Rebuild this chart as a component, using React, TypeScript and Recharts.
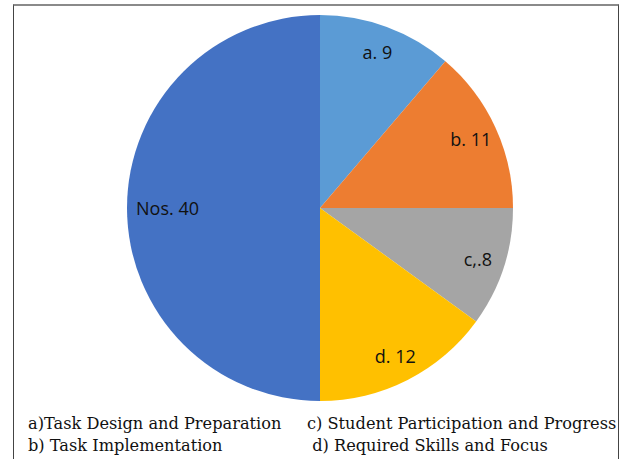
import React from 'react'
import { PieChart, Pie, Cell } from 'recharts'

const labels = ['a. ', 'b. ', 'c,.', 'd. ', 'Nos. ']
const values = [9, 11, 8, 12, 40]
const colors = ['#5B9BD5', '#ED7D31', '#A5A5A5', '#FFC000', '#4472C4']
const legendLeft = ['a)Task Design and Preparation', 'b) Task Implementation']
const legendRight = ['c) Student Participation and Progress', ' d) Required Skills and Focus']

const data = values.map((v, i) => ({ name: labels[i], value: v }))

const RAD = Math.PI / 180

const renderLabel = (props: any) => {
  const { cx, cy, midAngle, outerRadius, percent, index } = props
  const r = outerRadius * (percent >= 0.5 ? 0.79 : 0.86)
  const x = cx + r * Math.cos(-midAngle * RAD)
  const y = cy + r * Math.sin(-midAngle * RAD)
  return (
    <text
      x={x}
      y={y}
      textAnchor="middle"
      dominantBaseline="central"
      fill="#111"
      fontSize={18}
      fontFamily="'Open Sans', sans-serif"
    >
      {labels[index] + values[index]}
    </text>
  )
}

const legendStyle: React.CSSProperties = {
  position: 'absolute',
  fontFamily: "'DejaVu Serif', serif",
  fontSize: 16.2,
  color: '#111',
  lineHeight: '22px',
  whiteSpace: 'pre',
}

export default function App() {
  return (
    <div style={{ position: 'absolute', left: 0, top: 0, width: 624, height: 459, background: '#fff', overflow: 'hidden' }}>
      <div
        style={{
          position: 'absolute',
          left: 13,
          top: 4,
          width: 604,
          height: 470,
          borderTop: '2px solid #8a8a8a',
          borderLeft: '1.5px solid #444',
          borderRight: '1.5px solid #444',
        }}
      />
      <div style={{ position: 'absolute', left: 0, top: 0 }}>
        <PieChart width={624} height={459} margin={{ top: 0, right: 0, bottom: 0, left: 0 }}>
          <Pie
            data={data}
            dataKey="value"
            cx={320}
            cy={208}
            outerRadius={193}
            startAngle={90}
            endAngle={-270}
            stroke="none"
            label={renderLabel}
            labelLine={false}
            isAnimationActive={false}
          >
            {data.map((d, i) => (
              <Cell key={d.name} fill={colors[i]} />
            ))}
          </Pie>
        </PieChart>
      </div>
      <div style={{ ...legendStyle, left: 28, top: 413 }}>
        {legendLeft.map((t) => (
          <div key={t}>{t}</div>
        ))}
      </div>
      <div style={{ ...legendStyle, left: 307, top: 413 }}>
        {legendRight.map((t) => (
          <div key={t}>{t}</div>
        ))}
      </div>
    </div>
  )
}
